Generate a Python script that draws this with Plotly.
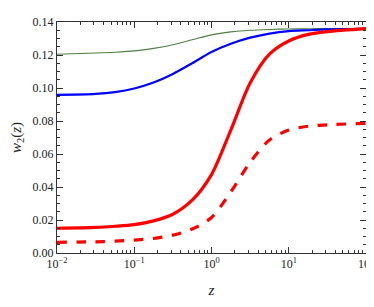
import plotly.graph_objects as go

log_z = [-2, -1.5, -1.25, -1, -0.75, -0.5, -0.25, 0, 0.25, 0.5, 0.75, 1, 1.25, 1.5, 2]
z = [10 ** v for v in log_z]

green = [0.1205, 0.1212, 0.1217, 0.1225, 0.1240, 0.1262, 0.1292, 0.1322, 0.1340, 0.1350, 0.1355, 0.1358, 0.1359, 0.1360, 0.1362]
blue = [0.0958, 0.0964, 0.0975, 0.0997, 0.1033, 0.1085, 0.1150, 0.1218, 0.1268, 0.1305, 0.1330, 0.1345, 0.1350, 0.1355, 0.1358]
red = [0.0150, 0.0155, 0.0162, 0.0172, 0.0195, 0.0235, 0.0320, 0.0475, 0.0745, 0.1030, 0.1205, 0.1285, 0.1325, 0.1342, 0.1360]
red_dash = [0.0065, 0.0068, 0.0072, 0.0078, 0.0088, 0.0108, 0.0145, 0.0215, 0.0370, 0.0550, 0.0685, 0.0745, 0.0768, 0.0777, 0.0786]

x_tickvals = [0.01, 0.1, 1, 10, 100]
x_ticktext = ["10<sup>−2</sup>", "10<sup>−1</sup>", "10<sup>0</sup>", "10<sup>1</sup>", "10<sup>2</sup>"]
x_minor = [m * d for d in [0.01, 0.1, 1, 10] for m in range(2, 10)]
y_tickvals = [0.0, 0.02, 0.04, 0.06, 0.08, 0.10, 0.12, 0.14]
y_ticktext = ["0.00", "0.02", "0.04", "0.06", "0.08", "0.10", "0.12", "0.14"]

fig = go.Figure()
fig.add_trace(go.Scatter(x=z, y=green, mode="lines", line=dict(color="#4e7f44", width=1.1, shape="spline", smoothing=0.8)))
fig.add_trace(go.Scatter(x=z, y=blue, mode="lines", line=dict(color="#0000ff", width=2.2, shape="spline", smoothing=0.8)))
fig.add_trace(go.Scatter(x=z, y=red, mode="lines", line=dict(color="#ff0000", width=3.2, shape="spline", smoothing=0.8)))
fig.add_trace(go.Scatter(x=z, y=red_dash, mode="lines", line=dict(color="#ff0000", width=3.2, dash="dash", shape="spline", smoothing=0.8)))

font = "Liberation Serif"
# the page body adds an 8px offset, so the figure is made 8px smaller
fig.update_layout(
    width=366, height=299,
    margin=dict(l=49, r=8, t=14, b=54),
    paper_bgcolor="white", plot_bgcolor="white",
    showlegend=False,
    font=dict(family=font, size=12, color="#222"),
)
fig.update_xaxes(
    type="log", range=[-2, 2],
    tickvals=x_tickvals, ticktext=x_ticktext,
    ticks="inside", ticklen=6, tickcolor="#333", tickwidth=1,
    showline=True, linecolor="#333", linewidth=1, mirror="allticks",
    showgrid=False, zeroline=False, automargin=False,
    ticklabeloverflow="allow",
    minor=dict(tickvals=x_minor, ticks="inside", ticklen=3, tickcolor="#333", showgrid=False),
    title=dict(text="<i>z</i>", font=dict(family=font, size=15), standoff=14),
    tickfont=dict(family=font, size=12),
)
fig.update_yaxes(
    range=[0, 0.14],
    tickvals=y_tickvals, ticktext=y_ticktext,
    ticks="inside", ticklen=6, tickcolor="#333", tickwidth=1,
    showline=True, linecolor="#333", linewidth=1, mirror="allticks",
    showgrid=False, zeroline=False, automargin=False,
    minor=dict(ticks="inside", ticklen=3, tickcolor="#333", dtick=0.005, showgrid=False),
    title=dict(text="<i>w</i><sub>2</sub>(<i>z</i>)", font=dict(family=font, size=15), standoff=10),
    tickfont=dict(family=font, size=12),
)

fig.write_html("out.html")
